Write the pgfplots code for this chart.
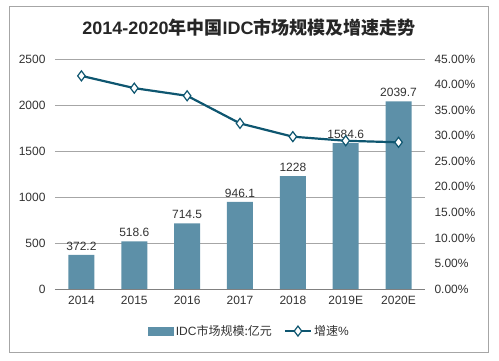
\documentclass[border=0pt]{standalone}
\usepackage{pgfplots}
\pgfplotsset{compat=1.18}
\usepackage{fontspec}
\setmainfont{Liberation Sans}
\newfontfamily\cjk{Noto Sans CJK SC}
\definecolor{barcol}{RGB}{93,144,168}
\definecolor{linecol}{RGB}{14,86,112}
\definecolor{txt}{RGB}{50,50,50}
\definecolor{gridc}{RGB}{166,166,166}
\pgfplotsset{mylinelegend/.style={legend image code/.code={\draw[mark repeat=2,mark phase=2,##1] plot coordinates {(0pt,0pt)(13pt,0pt)(26pt,0pt)};}}}
\begin{document}
\begin{tikzpicture}
\path[use as bounding box] (-55pt,-72pt) rectangle (444pt,289pt);
\draw[gray!70, line width=0.8pt] (-46pt,-63pt) rectangle (433pt,283pt);
\node[font=\fontsize{18}{20}\selectfont\bfseries, text=black!85] at (194pt,261pt)
  {2014-2020{\cjk\bfseries 年中国}IDC{\cjk\bfseries 市场规模及增速走势}};
\begin{axis}[
  scale only axis, width=370pt, height=230pt,
  xmin=-0.5, xmax=6.5, ymin=0, ymax=2500,
  ybar, bar width=26pt,
  xtick={0,...,6}, xticklabels={2014,2015,2016,2017,2018,2019E,2020E},
  ytick={0,500,...,2500},
  axis x line*=bottom, axis y line*=left,
  y axis line style={draw=none},
  x axis line style={draw=gray, line width=0.9pt, -},
  major tick length=0pt,
  ymajorgrids, grid style={gridc, line width=0.8pt},
  tick label style={font=\fontsize{12}{14}\selectfont, text=txt},
  /pgf/number format/assume math mode=true,
  /pgf/number format/1000 sep={},
  yticklabel style={xshift=-6pt},
  xticklabel style={yshift=-4pt},
  nodes near coords={\pgfmathprintnumber[1000 sep={},precision=1]{\pgfplotspointmeta}},
  every node near coord/.append style={font=\fontsize{12}{14}\selectfont, text=txt, yshift=1pt},
]
\addplot[fill=barcol, draw=none] coordinates {(0,372.2) (1,518.6) (2,714.5) (3,946.1) (4,1228) (5,1584.6) (6,2039.7)};
\end{axis}
\begin{axis}[
  scale only axis, width=370pt, height=230pt,
  xmin=-0.5, xmax=6.5, ymin=0, ymax=45,
  axis x line=none, axis y line*=right,
  y axis line style={draw=none},
  major tick length=0pt,
  ytick={0,5,...,45},
  yticklabel={\pgfmathprintnumber[fixed,fixed zerofill,precision=2]{\tick}\%},
  /pgf/number format/assume math mode=true,
  tick label style={font=\fontsize{12}{14}\selectfont, text=txt},
  yticklabel style={xshift=6pt},
  legend style={draw=none, fill=none, at={(0.526,-0.183)}, anchor=center,
    font=\fontsize{12}{14}\selectfont, text=txt,
    /tikz/every even column/.append style={column sep=10pt}},
  legend columns=2, legend cell align=left,
]
\addlegendimage{legend image code/.code={\fill[barcol] (0pt,-4pt) rectangle (25pt,4pt);}}
\addlegendentry{IDC{\cjk 市场规模:亿元}}
\addplot[color=linecol, line width=2.2pt, mark=diamond*, mark size=5pt,
  mark options={fill=white, draw=linecol, line width=1.2pt}, mylinelegend]
  coordinates {(0,41.7) (1,39.3) (2,37.8) (3,32.4) (4,29.8) (5,29.0) (6,28.7)};
\addlegendentry{{\cjk 增速}\%}
\end{axis}
\end{tikzpicture}
\end{document}
